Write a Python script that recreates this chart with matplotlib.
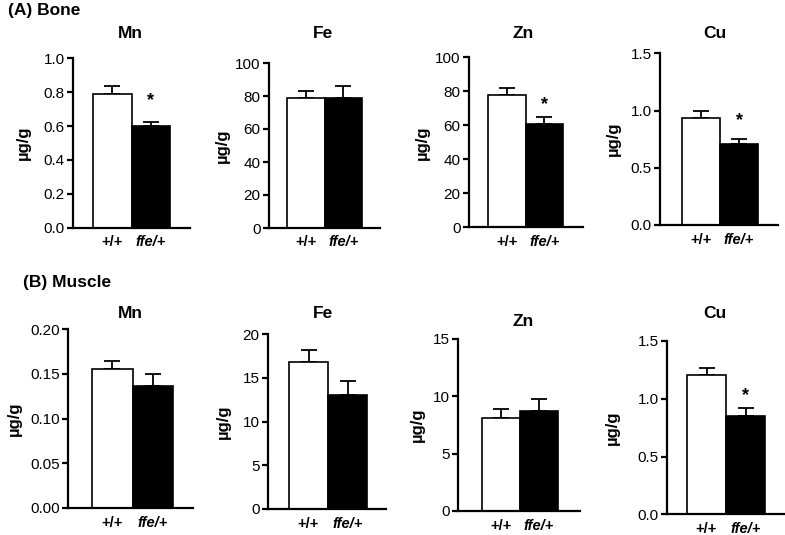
import matplotlib
matplotlib.use("Agg")
import matplotlib.pyplot as plt

plt.rcParams["font.family"] = ["Liberation Sans", "DejaVu Sans"]

genotypes = ["+/+", "ffe/+"]
elements = ["Mn", "Fe", "Zn", "Cu"]

bone_mean = {"Mn": [0.79, 0.60], "Fe": [79, 79], "Zn": [77.8, 61], "Cu": [0.937, 0.708]}
bone_sem = {"Mn": [0.045, 0.025], "Fe": [4.2, 7.2], "Zn": [4.2, 3.7], "Cu": [0.063, 0.046]}
bone_star = {"Mn": 0.765, "Zn": 74, "Cu": 0.94}

muscle_mean = {"Mn": [0.155, 0.136], "Fe": [16.8, 13.1], "Zn": [8.08, 8.72], "Cu": [1.206, 0.851]}
muscle_sem = {"Mn": [0.010, 0.014], "Fe": [1.4, 1.6], "Zn": [0.79, 1.02], "Cu": [0.058, 0.066]}
muscle_star = {"Cu": 1.05}

bone_ticks = {"Mn": [0, 0.2, 0.4, 0.6, 0.8, 1.0], "Fe": [0, 20, 40, 60, 80, 100],
              "Zn": [0, 20, 40, 60, 80, 100], "Cu": [0, 0.5, 1.0, 1.5]}
muscle_ticks = {"Mn": [0, 0.05, 0.10, 0.15, 0.20], "Fe": [0, 5, 10, 15, 20],
                "Zn": [0, 5, 10, 15], "Cu": [0, 0.5, 1.0, 1.5]}
bone_fmt = {"Mn": "{:.1f}", "Fe": "{:.0f}", "Zn": "{:.0f}", "Cu": "{:.1f}"}
muscle_fmt = {"Mn": "{:.2f}", "Fe": "{:.0f}", "Zn": "{:.0f}", "Cu": "{:.1f}"}

W, H = 785, 535
fig = plt.figure(figsize=(W / 100, H / 100), dpi=100)

# pixel layout: axis left, axis right, top, bottom, bar left, bar right, title xy, ylabel x
layout = {
    ("A", "Mn"): (73, 190, 58.3, 227.7, 93, 170, 130, 33, 23),
    ("A", "Fe"): (269, 380, 63, 228, 287, 362, 323, 33, 222),
    ("A", "Zn"): (469, 583, 57.3, 227.3, 488, 563, 523, 33, 422),
    ("A", "Cu"): (660, 778, 53.3, 225, 682, 758, 715, 33, 613),
    ("B", "Mn"): (68, 193, 329.3, 507.7, 92, 173, 130, 313, 14),
    ("B", "Fe"): (268, 386, 334.3, 509, 289, 367, 323, 313, 223),
    ("B", "Zn"): (458, 580, 339, 511, 482, 558, 523, 322, 417),
    ("B", "Cu"): (667, 785, 341, 514.3, 687, 765, 715, 313, 612),
}


def panel(key, mean, sem, ticks, fmt, star):
    axl, axr, top, bot, bl, br, tx, ty, ylx = layout[key]
    ax = fig.add_axes([axl / W, 1 - bot / H, (axr - axl) / W, (bot - top) / H])
    w = (br - bl) / 2
    ax.set_xlim(-0.5 - (bl - axl) / w, 1.5 + (axr - br) / w)
    ax.set_ylim(ticks[0], ticks[-1])
    ax.bar([0, 1], mean, width=1.0, color=["white", "black"], edgecolor="black",
           linewidth=1.2, zorder=2)
    ax.errorbar([0, 1], mean, yerr=[[0, 0], sem], fmt="none", ecolor="black",
                elinewidth=1.3, capsize=5.5, capthick=1.3, zorder=1)
    if star is not None:
        ax.annotate("*", (1, star), xytext=(0, -2), textcoords="offset points",
                    ha="center", va="center", fontsize=13, fontweight="bold")
    for s in ["top", "right"]:
        ax.spines[s].set_visible(False)
    for s in ["left", "bottom"]:
        ax.spines[s].set_linewidth(1.6)
    ax.set_xticks([])
    ax.set_yticks(ticks)
    ax.set_yticklabels([fmt.format(t) for t in ticks])
    ax.tick_params(axis="y", direction="out", length=4, width=1.6, labelsize=11,
                   pad=2)
    ax.patch.set_alpha(0)
    # x labels
    ax.text(0, -0.045, genotypes[0], transform=ax.get_xaxis_transform(),
            ha="center", va="top", fontsize=10.5, fontweight="bold")
    ax.text(1, -0.045, genotypes[1], transform=ax.get_xaxis_transform(),
            ha="center", va="top", fontsize=10.5, fontweight="bold", style="italic")
    fig.text(tx / W, 1 - ty / H, key[1], ha="center", va="center", fontsize=12.5,
             fontweight="bold")
    fig.text(ylx / W, 1 - (top + bot) / 2 / H, "µg/g", rotation=90, ha="center",
             va="center", fontsize=12, fontweight="bold")
    return ax


for el in elements:
    panel(("A", el), bone_mean[el], bone_sem[el], bone_ticks[el], bone_fmt[el],
          bone_star.get(el))
    panel(("B", el), muscle_mean[el], muscle_sem[el], muscle_ticks[el],
          muscle_fmt[el], muscle_star.get(el))

fig.text(8 / W, 1 - 11 / H, "(A) Bone", ha="left", va="center", fontsize=12.5,
         fontweight="bold")
fig.text(23 / W, 1 - 282 / H, "(B) Muscle", ha="left", va="center", fontsize=12.5,
         fontweight="bold")

fig.savefig("out.png", dpi=100)
